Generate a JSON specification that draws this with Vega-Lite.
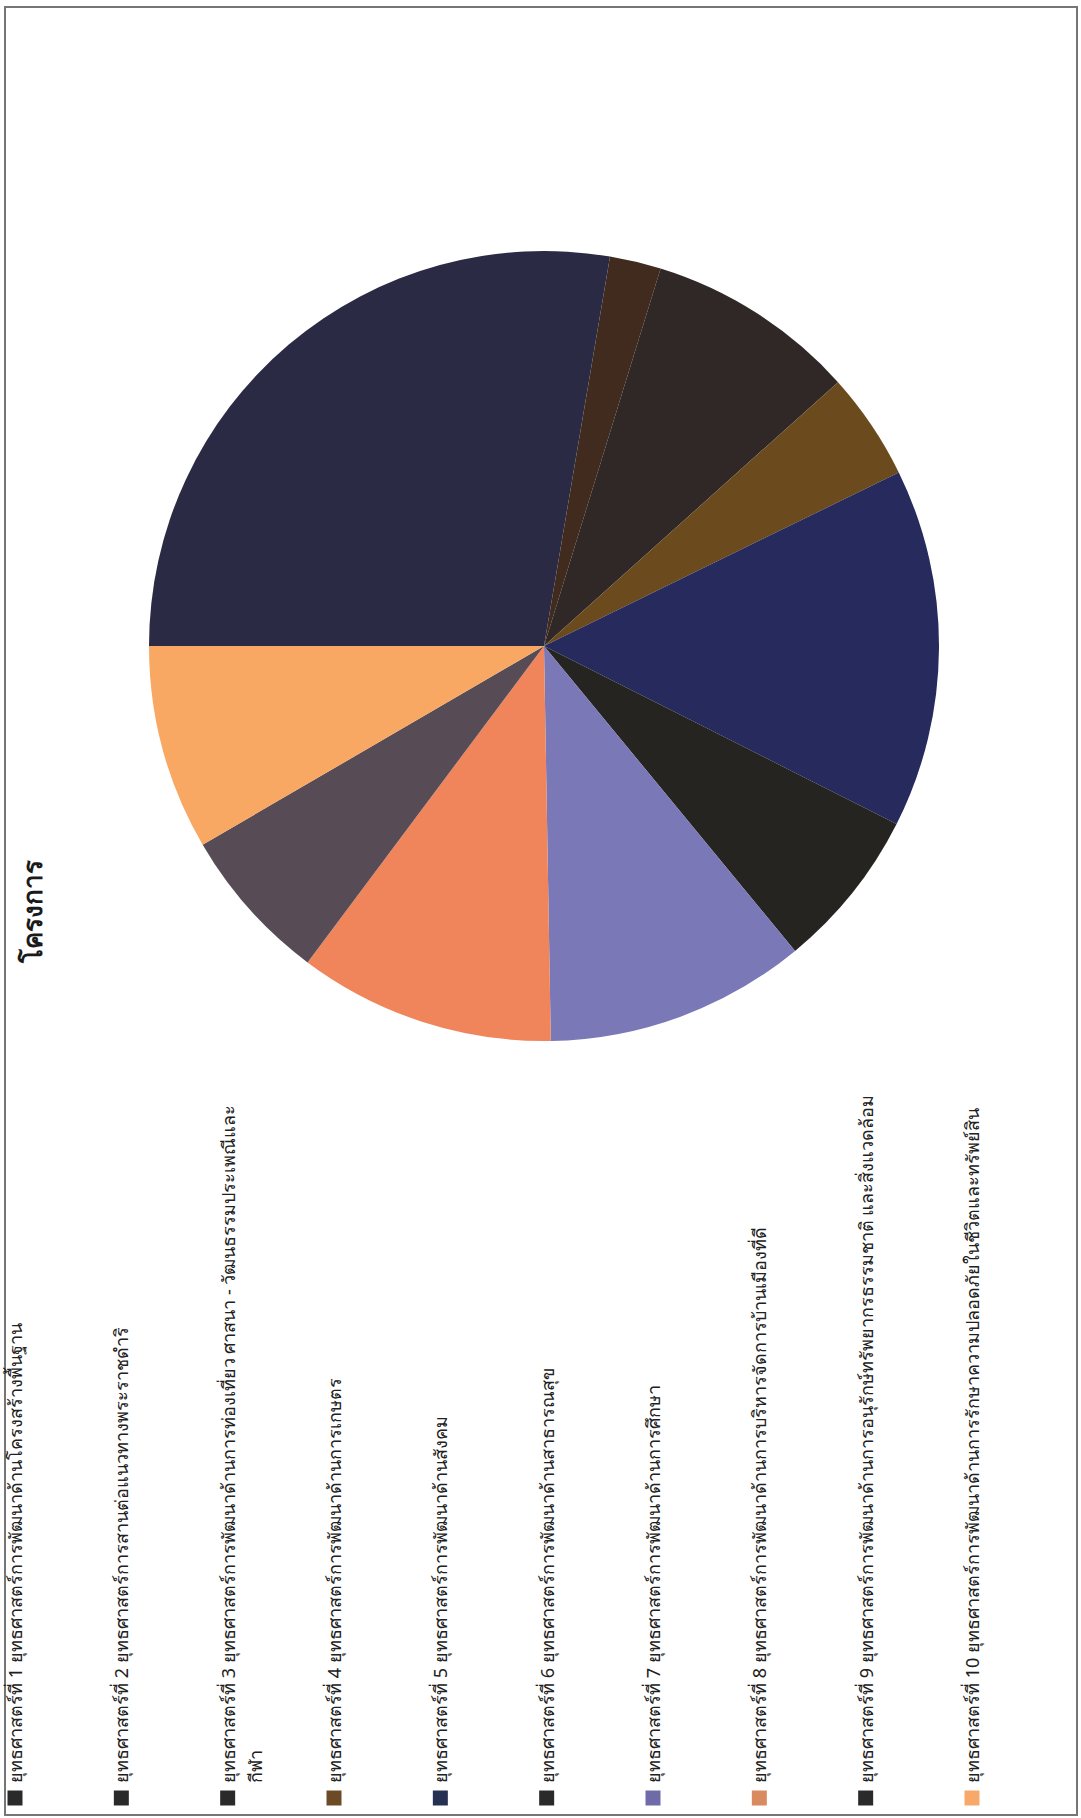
{
  "$schema": "https://vega.github.io/schema/vega-lite/v6.json",
  "width": 1072,
  "height": 1808,
  "autosize": {"type": "none"},
  "padding": {"left": 5, "top": 7, "right": 4, "bottom": 3},
  "background": "white",
  "config": {"view": {"stroke": "#767676", "strokeWidth": 2}, "font": "Noto Sans"},
  "title": {"text": "โครงการ", "orient": "left", "anchor": "middle", "offset": -42, "fontSize": 26, "fontWeight": "bold", "color": "#1a1a1a", "font": "Noto Sans"},
  "data": {"values": [
    {"no": 1, "share": 27.7, "label": "ยุทธศาสตร์ที่ 1   ยุทธศาสตร์การพัฒนาด้านโครงสร้างพื้นฐาน"},
    {"no": 2, "share": 2.1, "label": "ยุทธศาสตร์ที่ 2  ยุทธศาสตร์การสานต่อแนวทางพระราชดำริ"},
    {"no": 3, "share": 8.6, "label": "ยุทธศาสตร์ที่ 3 ยุทธศาสตร์การพัฒนาด้านการท่องเที่ยว ศาสนา - วัฒนธรรมประเพณีและ\nกีฬา"},
    {"no": 4, "share": 4.4, "label": "ยุทธศาสตร์ที่ 4 ยุทธศาสตร์การพัฒนาด้านการเกษตร"},
    {"no": 5, "share": 14.7, "label": "ยุทธศาสตร์ที่ 5  ยุทธศาสตร์การพัฒนาด้านสังคม"},
    {"no": 6, "share": 6.6, "label": "ยุทธศาสตร์ที่ 6 ยุทธศาสตร์การพัฒนาด้านสาธารณสุข"},
    {"no": 7, "share": 10.7, "label": "ยุทธศาสตร์ที่ 7 ยุทธศาสตร์การพัฒนาด้านการศึกษา"},
    {"no": 8, "share": 10.5, "label": "ยุทธศาสตร์ที่ 8 ยุทธศาสตร์การพัฒนาด้านการบริหารจัดการบ้านเมืองที่ดี"},
    {"no": 9, "share": 6.4, "label": "ยุทธศาสตร์ที่  9  ยุทธศาสตร์การพัฒนาด้านการอนุรักษ์ทรัพยากรธรรมชาติ และสิ่งแวดล้อม"},
    {"no": 10, "share": 8.4, "label": "ยุทธศาสตร์ที่ 10  ยุทธศาสตร์การพัฒนาด้านการรักษาความปลอดภัยในชีวิตและทรัพย์สิน"}
  ]},
  "layer": [
    {
      "mark": {"type": "arc", "outerRadius": 395},
      "encoding": {
        "theta": {"field": "share", "type": "quantitative", "stack": true, "scale": {"range": [4.71239, 10.99557]}},
        "order": {"field": "no", "type": "quantitative"},
        "color": {"field": "no", "type": "nominal", "legend": null,
          "scale": {"domain": [1, 2, 3, 4, 5, 6, 7, 8, 9, 10],
            "range": ["#2b2a45", "#402b1e", "#2f2826", "#6b4a1e", "#262a5c", "#262421", "#7a78b6", "#f0855c", "#574c55", "#f8a862"]}},
        "x": {"value": 539},
        "y": {"value": 639}
      }
    },
    {
      "mark": {"type": "square", "size": 225, "filled": true, "opacity": 1},
      "encoding": {
        "x": {"field": "no", "type": "ordinal", "axis": null, "scale": {"type": "point", "padding": 0, "range": [10, 967]}},
        "y": {"value": 1791},
        "color": {"field": "no", "type": "nominal", "legend": null,
          "scale": {"domain": [1, 2, 3, 4, 5, 6, 7, 8, 9, 10],
            "range": ["#2a2a2a", "#2a2a2a", "#2a2a2a", "#6b4a25", "#263052", "#2a2a2a", "#6f6aa8", "#d98a60", "#2a2a2a", "#f8a868"]}}
      }
    },
    {
      "mark": {"type": "text", "angle": 270, "align": "left", "baseline": "alphabetic", "dx": 15, "dy": 7, "fontSize": 18, "lineBreak": "\n", "lineHeight": 27, "color": "#202020"},
      "encoding": {
        "x": {"field": "no", "type": "ordinal", "axis": null},
        "y": {"value": 1791},
        "text": {"field": "label"}
      }
    }
  ],
  "resolve": {"scale": {"color": "independent"}}
}
